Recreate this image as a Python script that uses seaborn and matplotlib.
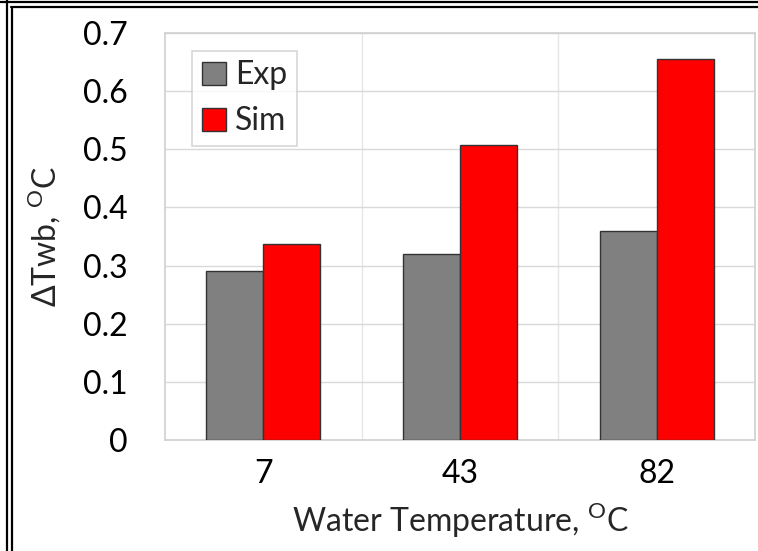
import matplotlib
matplotlib.use("Agg")
import matplotlib.pyplot as plt
import seaborn as sns
import pandas as pd
from matplotlib.lines import Line2D

categories = ["7", "43", "82"]
series_names = ["Exp", "Sim"]
exp_values = [0.29, 0.32, 0.36]
sim_values = [0.337, 0.508, 0.655]
y_ticks = [0, 0.1, 0.2, 0.3, 0.4, 0.5, 0.6, 0.7]
colors = {"Exp": "#808080", "Sim": "#ff0000"}

df = pd.DataFrame({
    "Water Temperature": categories * 2,
    "Series": [series_names[0]] * 3 + [series_names[1]] * 3,
    "Value": exp_values + sim_values,
})

sns.set_theme(style="white")
plt.rcParams["font.family"] = ["Lato", "DejaVu Sans"]
plt.rcParams["mathtext.fontset"] = "custom"
plt.rcParams["mathtext.rm"] = "Lato"

FS = 23
W, H = 758, 551
fig = plt.figure(figsize=(W / 100, H / 100), dpi=100)
ax = fig.add_axes([165 / W, 1 - 440 / H, (755 - 165) / W, (440 - 33) / H])

sns.barplot(data=df, x="Water Temperature", y="Value", hue="Series",
            palette=colors, order=categories, hue_order=series_names,
            width=0.58, edgecolor="#333333", linewidth=1.0, ax=ax,
            saturation=1, legend=True, zorder=3)

ax.set_ylim(0, 0.7)
ax.set_xlim(-0.5, 2.5)
ax.set_yticks(y_ticks)
ax.set_yticklabels(["0" if v == 0 else f"{v:.1f}" for v in y_ticks])
ax.tick_params(axis="both", labelsize=FS, length=0, colors="#000000")
ax.tick_params(axis="y", pad=27)
ax.tick_params(axis="x", pad=14)
ax.yaxis.grid(True, color="#d9d9d9", linewidth=1.0, zorder=0)
for xv in [0.5, 1.5]:
    ax.axvline(xv, color="#e6e6e6", linewidth=1.0, zorder=0)
ax.set_axisbelow(True)
for s in ax.spines.values():
    s.set_color("#d0d0d0")
    s.set_linewidth(1.2)

ax.set_xlabel(r"Water Temperature, $^{\mathrm{O}}$C", fontsize=FS, labelpad=8)
ax.set_ylabel(r"ΔTwb, $^{\mathrm{O}}$C", fontsize=FS, labelpad=14)

leg = ax.legend(loc="upper left", bbox_to_anchor=(0.046, 0.956), fontsize=FS,
                frameon=True, fancybox=False, edgecolor="#cccccc",
                handlelength=0.75, handleheight=0.75, handletextpad=0.3,
                borderpad=0.3, labelspacing=0.5, borderaxespad=0)
leg.get_frame().set_linewidth(1.2)

# outer double frame
def px_line(x0, y0, x1, y1):
    fig.add_artist(Line2D([x0 / W, x1 / W], [1 - y0 / H, 1 - y1 / H],
                          color="black", linewidth=1.6, transform=fig.transFigure))

px_line(0, 1.5, W, 1.5)
px_line(11, 6.5, W, 6.5)
px_line(7, 0, 7, H)
px_line(11.5, 6.5, 11.5, H)

fig.savefig("out.png", dpi=100, facecolor="white")
